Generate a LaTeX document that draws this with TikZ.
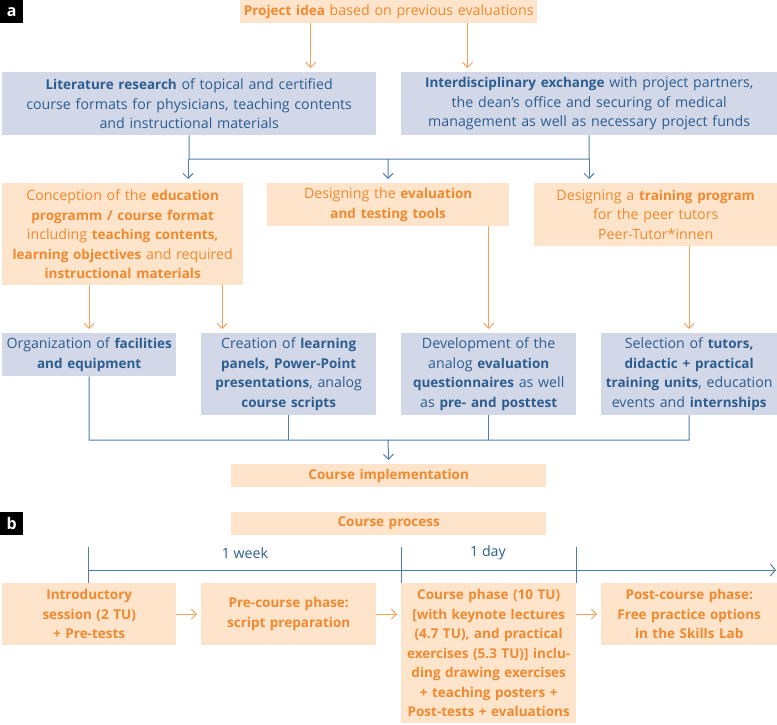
\documentclass[tikz,border=0pt]{standalone}
\usepackage{fontspec}
\setmainfont{Open Sans}
\usetikzlibrary{arrows.meta}
\definecolor{ofill}{HTML}{FDE4CB}
\definecolor{otext}{HTML}{F0892F}
\definecolor{oline}{HTML}{F5A35E}
\definecolor{bfill}{HTML}{D3D8E8}
\definecolor{btext}{HTML}{2C5D8E}
\definecolor{bline}{HTML}{4F7DAE}
\newcommand\B[1]{{\fontsize{13.5}{19.5}\selectfont\bfseries #1}}
\tikzset{
  box/.style={inner xsep=2pt, inner ysep=0pt, align=center, anchor=north west,
    font=\fontsize{14.2}{19.5}\selectfont},
  obox/.style={box, fill=ofill, text=otext},
  bbox/.style={box, fill=bfill, text=btext},
  sbox/.style={obox, font=\fontsize{13.5}{19.5}\selectfont\bfseries},
  tip/.style={-{Straight Barb[length=5pt,width=10pt,line width=1pt]}},
  oarr/.style={draw=oline, line width=1pt, tip, shorten >=4pt},
  barr/.style={draw=bline, line width=1pt, tip, shorten >=4pt},
  bln/.style={draw=bline, line width=1pt},
  panel/.style={fill=black, text=white, inner sep=0pt, minimum width=23pt,
    minimum height=23pt, anchor=north west, font=\fontsize{16}{18}\selectfont\bfseries},
  tl/.style={text=btext, font=\fontsize{14.2}{16}\selectfont}
}
\begin{document}
\begin{tikzpicture}[x=1pt,y=-1pt]
\useasboundingbox (0,0) rectangle (777,725);
\node[panel] (pa) at (0,0) {a};
\node[panel] (pb) at (0,512) {b};

\node[obox, text width=293pt, minimum height=23pt] (proj) at (240,0) {\B{Project idea} based on previous evaluations};
\node[bbox, text width=370pt, minimum height=63pt] (lit) at (2,72) {\B{Literature research} of topical and certified\\course formats for physicians, teaching contents\\and instructional materials};
\node[bbox, text width=372pt, minimum height=63pt] (inter) at (401,72) {\B{Interdisciplinary exchange} with project partners,\\the dean’s office and securing of medical\\management as well as necessary project funds};

\node[obox, text width=237pt, minimum height=102pt] (conc) at (2,183) {Conception of the \B{education}\\\B{programm / course format}\\including \B{teaching contents,}\\\B{learning objectives} and required\\\B{instructional materials}};
\node[obox, text width=238pt, minimum height=43pt] (eval) at (267,183) {Designing the \B{evaluation}\\\B{and testing tools}};
\node[obox, text width=239pt, minimum height=63pt] (train) at (534,183) {Designing a \B{training program}\\for the peer tutors\\Peer-Tutor*innen};

\node[bbox, text width=170pt, minimum height=43pt] (org) at (2,333) {Organization of \B{facilities}\\\B{and equipment}};
\node[bbox, text width=171pt, minimum height=82pt] (creat) at (201,333) {Creation of \B{learning}\\\B{panels, Power-Point}\\\B{presentations}, analog\\\B{course scripts}};
\node[bbox, text width=171pt, minimum height=82pt] (dev) at (401,333) {Development of the\\analog \B{evaluation}\\\B{questionnaires} as well\\as \B{pre- and posttest}};
\node[bbox, text width=172pt, minimum height=82pt] (sel) at (601,333) {Selection of \B{tutors,}\\\B{didactic + practical}\\\B{training units}, education\\events and \B{internships}};

\node[sbox, text width=311pt, minimum height=23pt] (impl) at (231,464) {Course implementation};
\node[sbox, text width=311pt, minimum height=23pt] (proc) at (231,512) {Course process};

\node[sbox, text width=170pt, minimum height=62pt] (intro) at (2,583) {Introductory\\session (2 TU)\\+ Pre-tests};
\node[sbox, text width=171pt, minimum height=62pt] (pre) at (201,583) {Pre-course phase:\\script preparation};
\node[sbox, text width=171pt, minimum height=140pt] (phase) at (401,583) {Course phase (10 TU)\\{}[with keynote lectures\\(4.7 TU), and practical\\exercises (5.3 TU)] inclu-\\ding drawing exercises\\+ teaching posters +\\Post-tests + evaluations};
\node[sbox, text width=172pt, minimum height=62pt] (post) at (601,583) {Post-course phase:\\Free practice options\\in the Skills Lab};

% project idea arrows
\draw[oarr] ([xshift=-78pt]proj.south) -- ([xshift=-78pt]proj.south |- lit.north);
\draw[oarr] ([xshift=79pt]proj.south) -- ([xshift=79pt]proj.south |- inter.north);

% junction 1
\coordinate (j1) at (188,159);
\coordinate (j2) at (388,159);
\coordinate (j3) at (589,159);
\draw[bln] (lit.south) |- (j3) -- (inter.south);
\draw[barr] (j1) -- (j1 |- conc.north);
\draw[barr] (j2) -- (eval.north);
\draw[barr] (j3) -- (j3 |- train.north);

% orange arrows down
\draw[oarr] (conc.south -| org.north) -- (org.north);
\coordinate (c2) at (222,285);
\draw[oarr] (c2) -- (c2 |- creat.north);
\draw[oarr] (eval.south -| dev.north) -- (dev.north);
\draw[oarr] (train.south -| sel.north) -- (sel.north);

% junction 2
\coordinate (k1) at (89,440);
\coordinate (k4) at (689,440);
\coordinate (k2) at (388,440);
\draw[bln] (org.south) |- (k4) -- (sel.south);
\draw[bln] (creat.south) -- (creat.south |- k1);
\draw[bln] (dev.south) -- (dev.south |- k1);
\draw[barr] (k2) -- (impl.north);

% timeline
\coordinate (t0) at (88,570);
\coordinate (t1) at (776,570);
\coordinate (s0) at (88,583);
\draw[bln, -{Straight Barb[length=5pt,width=12pt,line width=1pt]}] (t0) -- (t1);
\draw[bln] (s0) -- ++(0,-36);
\draw[bln] (phase.north west) -- ++(0,-36);
\draw[bln] (phase.north east) -- ++(0,-36);
\node[tl] (wk) at (245,553) {1 week};
\node[tl] (dy) at (488,553) {1 day};

% horizontal arrows
\coordinate (h3) at (phase.east |- pre.east);
\draw[oarr] (intro.east) -- (pre.west);
\draw[oarr] (pre.east) -- (pre.east -| phase.west);
\draw[oarr] (h3) -- (post.west);
\end{tikzpicture}
\end{document}
